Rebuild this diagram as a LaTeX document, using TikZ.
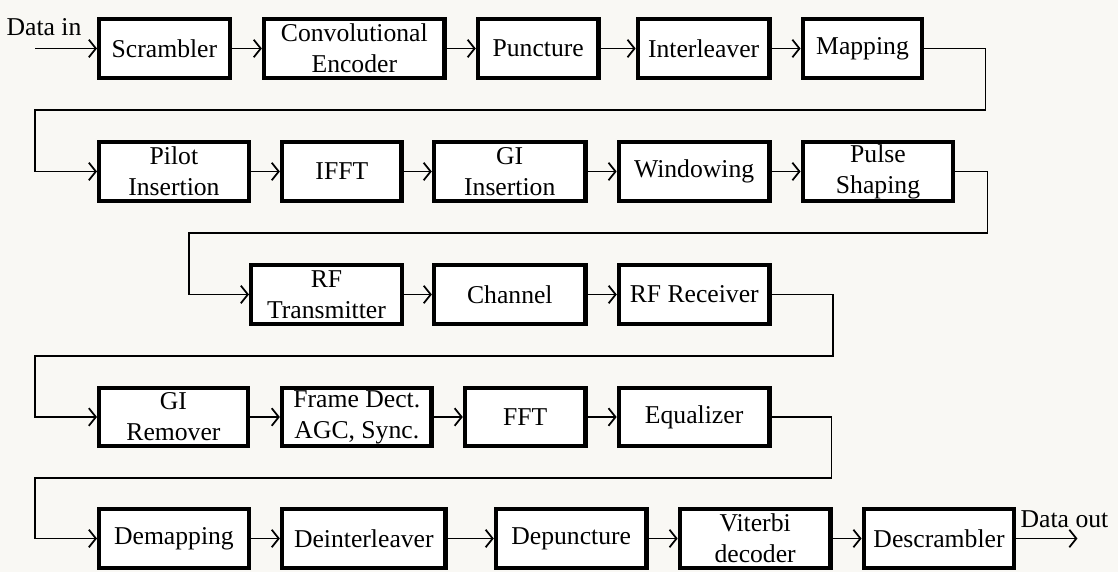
\documentclass[tikz,border=0pt]{standalone}
\usepackage{fontspec}
\setmainfont{Liberation Serif}
\usetikzlibrary{positioning, arrows.meta}
\definecolor{bgc}{HTML}{F9F8F4}

\begin{document}
\begin{tikzpicture}[> = {Straight Barb[length=4pt, width=10pt]}, line width=1pt,
    blk/.style = {draw, line width=2.5pt, fill=white, minimum height=1.17cm,
                  align=center, inner sep=1pt, font=\fontsize{14.6}{17.5}\selectfont},
    lbl/.style = {font=\fontsize{14.6}{17.5}\selectfont, inner sep=0pt}]
    \fill[bgc] (0,0) rectangle (22.36,-11.44);
    \useasboundingbox (0,0) rectangle (22.36,-11.44);

    % transmitter chain
    \node[blk, minimum width=2.61cm, anchor=west] (scr) at (1.94,-0.97) {Scrambler};
    \node[blk, minimum width=3.61cm] (conv) [right=0.6cm of scr] {Convolutional\\Encoder};
    \node[blk, minimum width=2.41cm] (punc) [right=0.58cm of conv] {Puncture};
    \node[blk, minimum width=2.63cm] (intl) [right=0.7cm of punc] {Interleaver};
    \node[blk, minimum width=2.39cm] (map) [right=0.58cm of intl] {Mapping};

    \node[blk, minimum width=2.99cm, anchor=west] (pil) at ([yshift=-2.46cm]scr.west) {Pilot\\Insertion};
    \node[blk, minimum width=2.39cm] (ifft) [right=0.58cm of pil] {IFFT};
    \node[blk, minimum width=3.03cm] (gii) [right=0.56cm of ifft] {GI\\Insertion};
    \node[blk, minimum width=3.01cm] (win) [right=0.58cm of gii] {Windowing};
    \node[blk, minimum width=3.01cm] (pul) [right=0.58cm of win] {Pulse\\Shaping};

    % RF part
    \node[blk, minimum width=3.01cm, anchor=west] (rftx) at ([xshift=3.04cm, yshift=-2.46cm]pil.west) {RF\\Transmitter};
    \node[blk, minimum width=3.03cm] (chan) [right=0.56cm of rftx] {Channel};
    \node[blk, minimum width=3.01cm] (rfrx) [right=0.58cm of chan] {RF Receiver};

    % receiver chain
    \node[blk, minimum width=2.97cm, anchor=west] (gir) at ([yshift=-4.91cm]pil.west) {GI\\Remover};
    \node[blk, minimum width=2.99cm] (fdet) [right=0.6cm of gir] {Frame Dect.\\AGC, Sync.};
    \node[blk, minimum width=2.41cm] (fft) [right=0.58cm of fdet] {FFT};
    \node[blk, minimum width=3.01cm] (eq) [right=0.58cm of fft] {Equalizer};

    \node[blk, minimum width=2.99cm, anchor=west] (dem) at ([yshift=-2.43cm]gir.west) {Demapping};
    \node[blk, minimum width=3.27cm] (dint) [right=0.58cm of dem] {Deinterleaver};
    \node[blk, minimum width=3.01cm] (dpun) [right=0.92cm of dint] {Depuncture};
    \node[blk, minimum width=3.01cm] (vit) [right=0.58cm of dpun] {Viterbi\\decoder};
    \node[blk, minimum width=3.01cm] (dscr) [right=0.58cm of vit] {Descrambler};

    % input and output
    \coordinate (din) at ([xshift=-1.24cm]scr.west);
    \coordinate (dout) at ([xshift=1.22cm]dscr.east);
    \node[lbl] (tin) at ([xshift=-1.06cm, yshift=0.43cm]scr.west) {Data in};
    \node[lbl] (tout) at ([xshift=0.96cm, yshift=0.39cm]dscr.east) {Data out};

    \draw[->] (din) -- (scr);
    \draw[->] (scr) -- (conv);
    \draw[->] (conv) -- (punc);
    \draw[->] (punc) -- (intl);
    \draw[->] (intl) -- (map);
    \draw[->] (map.east) -- ++(1.22,0) -- ++(0,-1.23) -| ([xshift=-1.24cm]pil.west) -- (pil.west);

    \draw[->] (pil) -- (ifft);
    \draw[->] (ifft) -- (gii);
    \draw[->] (gii) -- (win);
    \draw[->] (win) -- (pul);
    \draw[->] (pul.east) -- ++(0.64,0) -- ++(0,-1.23) -| ([xshift=-1.2cm]rftx.west) -- (rftx.west);

    \draw[->] (rftx) -- (chan);
    \draw[->] (chan) -- (rfrx);
    \draw[->] (rfrx.east) -- ++(1.22,0) -- ++(0,-1.23) -| ([xshift=-1.24cm]gir.west) -- (gir.west);

    \draw[->] (gir) -- (fdet);
    \draw[->] (fdet) -- (fft);
    \draw[->] (fft) -- (eq);
    \draw[->] (eq.east) -- ++(1.2,0) -- ++(0,-1.22) -| ([xshift=-1.24cm]dem.west) -- (dem.west);

    \draw[->] (dem) -- (dint);
    \draw[->] (dint) -- (dpun);
    \draw[->] (dpun) -- (vit);
    \draw[->] (vit) -- (dscr);
    \draw[->] (dscr) -- (dout);
\end{tikzpicture}
\end{document}
